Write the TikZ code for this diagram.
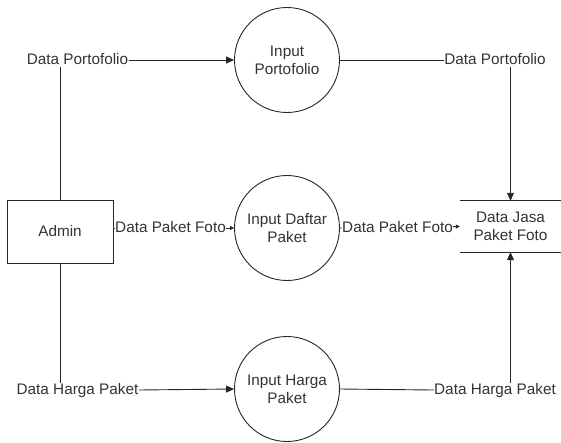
\documentclass[tikz,border=0pt]{standalone}
\usepackage{fontspec}
\setmainfont{Liberation Sans}
\usetikzlibrary{arrows.meta}
\begin{document}
\begin{tikzpicture}[x=1pt,y=-1pt,
  every node/.style={font=\fontsize{15.3}{18}\selectfont, text=black!80},
  conn/.style={draw=black!85, line width=0.9pt},
  flow/.style={conn, -{Triangle[length=8pt,width=7pt]}},
  smallflow/.style={conn, -{Triangle[length=4pt,width=4pt]}},
  flowlabel/.style={fill=white, inner sep=0.2pt, text height=11pt, text depth=3pt},
  process/.style={circle, draw=black!85, line width=0.9pt, minimum size=105pt, align=center, inner sep=0pt},
  entity/.style={rectangle, draw=black!85, line width=0.9pt, minimum width=106pt, minimum height=63pt},
  datastore/.style={minimum width=101pt, minimum height=51pt, align=center, inner sep=0pt}]
\useasboundingbox (0,0) rectangle (561,442);

% entity, processes and data store
\node[entity] (admin) at (60,231.5) {Admin};
\node[process] (p1) at (287,60) {Input\\Portofolio};
\node[process] (p2) at (287,228) {Input Daftar\\Paket};
\node[process] (p3) at (287,389) {Input Harga\\Paket};
\node[datastore] (store) at (510.5,226.5) {Data Jasa\\Paket Foto};
\draw[conn] (store.north west) -- (store.north east);
\draw[conn] (store.south west) -- (store.south east);

% flow labels
\node[flowlabel] (l1) at (77.5,60) {Data Portofolio};
\node[flowlabel] (l2) at (495,60) {Data Portofolio};
\node[flowlabel] (l5) at (77.5,390) {Data Harga Paket};
\node[flowlabel] (l6) at (495,390) {Data Harga Paket};

% top row
\draw[conn] (admin.north) -- (admin.north |- l1.south);
\draw[flow] (l1.east) -- (p1.west);
\draw[conn] (p1.east) -- (l2.west);
\draw[flow] (store.north |- l2.south) -- (store.north);

% middle row
\draw[smallflow] (admin.east |- p2) -- (p2.west);
\draw[smallflow] (p2.east) -- (store.west);
\node[flowlabel] (l3) at (170.5,228) {Data Paket Foto};
\node[flowlabel] (l4) at (397.5,228) {Data Paket Foto};

% bottom row
\draw[conn] (admin.south) -- (admin.south |- l5.north);
\draw[flow] (l5.east) -- (p3.west);
\draw[conn] (p3.east) -- (l6.west);
\draw[flow] (store.south |- l6.north) -- (store.south);
\end{tikzpicture}
\end{document}
